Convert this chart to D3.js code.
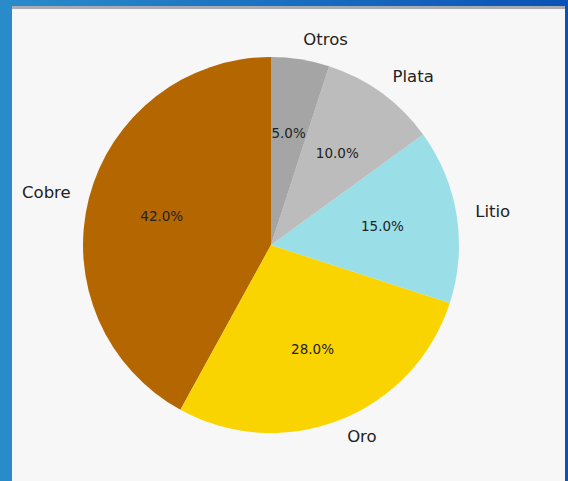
<!DOCTYPE html>
<html>
<head>
<meta charset="utf-8">
<script src="https://cdn.jsdelivr.net/npm/d3@7"></script>
<style>
  html, body { margin: 0; padding: 0; }
  body {
    width: 568px; height: 481px; overflow: hidden;
    background: linear-gradient(to right, #2a8ccb, #0a52b6);
    position: relative;
  }
  #topline { position: absolute; left: 12px; top: 6px; width: 553px; height: 3px; background: #a9adb3; }
  #panel { position: absolute; left: 12px; top: 9px; width: 553px; height: 472px; background: #f7f7f7; }
  text { font-family: "DejaVu Sans", sans-serif; fill: #222; }
</style>
</head>
<body>
<div id="topline"></div>
<div id="panel"></div>
<script>
// slice data (counterclockwise from 12 o'clock)
var categories = ["Cobre", "Oro", "Litio", "Plata", "Otros"];
var shares = [42, 28, 15, 10, 5];
var colors = ["#b46600", "#fad400", "#9adfe8", "#bcbcbc", "#a5a5a5"];

var width = 553, height = 472;
var cx = 259, cy = 236, radius = 188;

var svg = d3.select("#panel")
  .append("svg")
  .attr("width", width)
  .attr("height", height);

var g = svg.append("g")
  .attr("transform", "translate(" + cx + "," + cy + ")");

var data = categories.map(function (c, i) {
  return { name: c, value: shares[i], color: colors[i] };
});

// d3 angles go clockwise from 12 o'clock; negate to go counterclockwise
var pie = d3.pie()
  .value(function (d) { return d.value; })
  .sort(null)
  .startAngle(0)
  .endAngle(-2 * Math.PI);

var arcs = pie(data);
var arc = d3.arc().innerRadius(0).outerRadius(radius);

g.selectAll("path")
  .data(arcs)
  .join("path")
  .attr("d", arc)
  .attr("fill", function (d) { return d.data.color; });

var total = d3.sum(shares);

function pos(d, k) {
  var a = (d.startAngle + d.endAngle) / 2;
  return [Math.sin(a) * radius * k, -Math.cos(a) * radius * k];
}

// percent labels
g.selectAll("text.pct")
  .data(arcs)
  .join("text")
  .attr("class", "pct")
  .attr("x", function (d) { return pos(d, 0.6)[0]; })
  .attr("y", function (d) { return pos(d, 0.6)[1] - 1; })
  .attr("text-anchor", "middle")
  .attr("dominant-baseline", "central")
  .style("font-size", "13.5px")
  .text(function (d) { return (d.data.value / total * 100).toFixed(1) + "%"; });

// category labels
g.selectAll("text.lab")
  .data(arcs)
  .join("text")
  .attr("class", "lab")
  .attr("x", function (d) { return pos(d, 1.1)[0]; })
  .attr("y", function (d) { return pos(d, 1.1)[1] - 1; })
  .attr("text-anchor", function (d) { return pos(d, 1.1)[0] < 0 ? "end" : "start"; })
  .attr("dominant-baseline", "central")
  .style("font-size", "16.5px")
  .text(function (d) { return d.data.name; });
</script>
</body>
</html>
